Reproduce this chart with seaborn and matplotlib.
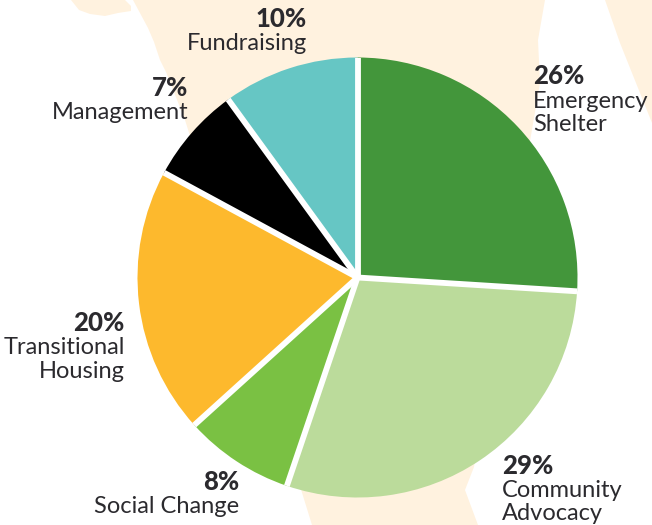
import matplotlib

matplotlib.use("Agg")
import matplotlib.pyplot as plt
import numpy as np
import seaborn as sns
from matplotlib.patches import Polygon

WIDTH, HEIGHT = 652, 525

categories = ["Emergency\nShelter", "Community\nAdvocacy", "Social Change", "Transitional\nHousing", "Management", "Fundraising"]
shares = [26, 29, 8, 20, 7, 10]
# the slices as drawn differ a little from the rounded labels
slice_sizes = [26, 29.2, 8.1, 19.6, 7.1, 10]
colors = ["#43963B", "#BBDB9B", "#7AC143", "#FDB92D", "#000000", "#66C6C4"]

# pixel anchor of each label block: x, baseline of the percent line, alignment
label_x = [533, 502, 239, 125, 188, 307]
label_y = [84.5, 473.5, 490, 331, 96, 27]
label_ha = ["left", "left", "right", "right", "right", "right"]

# pale map shapes behind the pie, in picture pixels
map_shapes = [
    [(133, 0), (148, 28), (154, 42), (160, 60), (166, 72), (185, 120), (299, 483), (312, 525), (478, 525),
     (465, 490), (474, 467), (540, 83), (538, 40), (545, 0)],
    [(71, 0), (79, 10), (90, 14), (105, 16), (118, 13), (131, 11), (131, 6), (125, 0)],
    [(605, 0), (620, 43), (652, 123), (652, 0)],
]

sns.set_theme(style="white")
plt.rcParams["font.family"] = ["Lato", "DejaVu Sans"]

TEXT = "#2B2A2E"
LINE_HEIGHT = 23.3


def flip(points):
    return [(x, HEIGHT - y) for x, y in points]


fig = plt.figure(figsize=(WIDTH / 100, HEIGHT / 100), dpi=100)
ax = fig.add_axes([0, 0, 1, 1])

for shape in map_shapes:
    ax.add_patch(Polygon(flip(shape), closed=True, facecolor="#FFF2DF", edgecolor="none", zorder=0))

center = (357.5, HEIGHT - 277.5)
radius = 220
wedges, _ = ax.pie(
    slice_sizes,
    colors=colors,
    startangle=90,
    counterclock=False,
    center=center,
    radius=radius,
    wedgeprops={"linewidth": 0},
)

# white gaps between the slices stop at the rim
for wedge in wedges:
    angle = np.deg2rad(wedge.theta1)
    ax.plot(
        [center[0], center[0] + radius * np.cos(angle)],
        [center[1], center[1] + radius * np.sin(angle)],
        color="white",
        lw=4.2,
        solid_capstyle="butt",
        zorder=5,
    )

for name, share, x, y, ha in zip(categories, shares, label_x, label_y, label_ha):
    ax.text(x, HEIGHT - y, f"{share}%", ha=ha, va="baseline", fontsize=18.5, fontweight=900, color=TEXT, zorder=6)
    for i, line in enumerate(name.split("\n"), start=1):
        ax.text(x, HEIGHT - y - i * LINE_HEIGHT, line, ha=ha, va="baseline", fontsize=17, color=TEXT, zorder=6)

ax.set_xlim(0, WIDTH)
ax.set_ylim(0, HEIGHT)
ax.set_aspect("equal")
ax.axis("off")

fig.savefig("out.png", dpi=100)
plt.close(fig)
